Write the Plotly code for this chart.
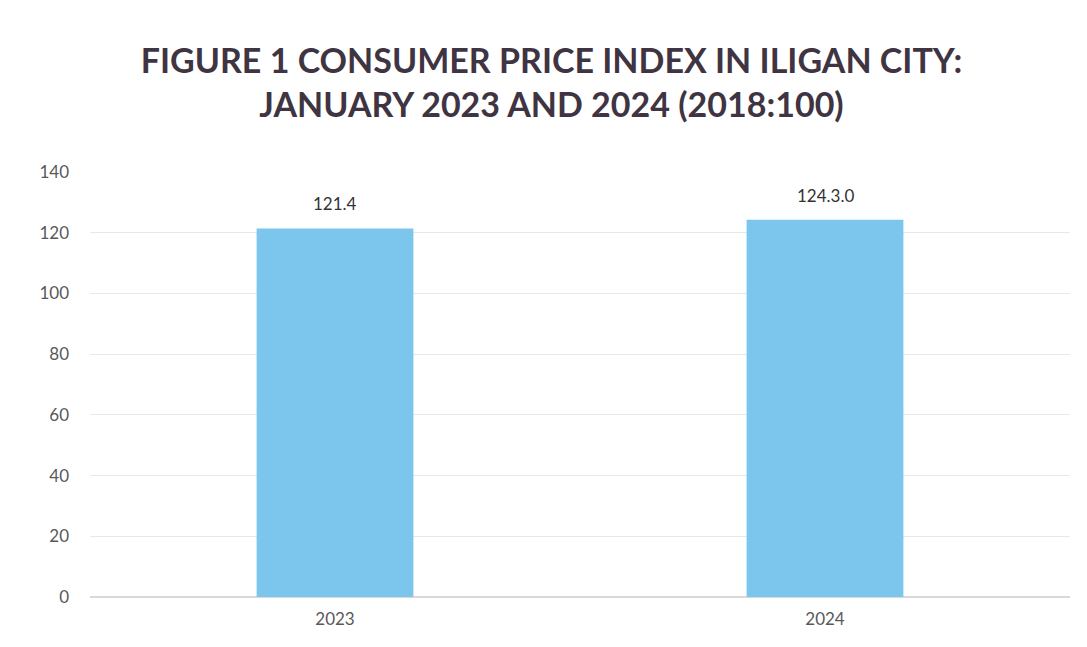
import plotly.graph_objects as go

categories = ["2023", "2024"]
values = [121.4, 124.3]
value_labels = ["121.4", "124.3.0"]
y_ticks = [0, 20, 40, 60, 80, 100, 120, 140]

fig = go.Figure()
fig.add_trace(go.Bar(
    x=categories, y=values,
    marker=dict(color="#7CC5EC", line=dict(width=0)),
    width=0.32, hoverinfo="skip",
))
for i, (v, t) in enumerate(zip(values, value_labels)):
    fig.add_annotation(x=i, y=v, text=t, showarrow=False, yanchor="bottom",
                       yshift=12, font=dict(size=17, color="#333333", family="Lato"))

fig.update_layout(
    width=1087, height=647,
    margin=dict(l=82, r=25, t=164, b=58),
    paper_bgcolor="white", plot_bgcolor="white",
    title=dict(
        text="<b>FIGURE 1 CONSUMER PRICE INDEX IN ILIGAN CITY:<br>JANUARY 2023 AND 2024 (2018:100)</b>",
        x=0.5, xanchor="center", y=0.9, yanchor="top",
        font=dict(size=34, color="#3f3442", family="Lato"),
    ),
    showlegend=False,
    font=dict(family="Lato", color="#595959", size=16),
)
fig.update_yaxes(range=[0, 140], tickvals=y_ticks, showgrid=True,
                 gridcolor="#e8e8e8", zeroline=True, zerolinecolor="#d9d9d9",
                 ticks="", ticklabelstandoff=20, tickfont=dict(size=17, color="#595959"))
fig.update_xaxes(type="category", range=[-0.5, 1.5], showline=False, ticks="",
                 ticklabelstandoff=10, tickfont=dict(size=17, color="#595959"))
fig.write_html("out.html")
